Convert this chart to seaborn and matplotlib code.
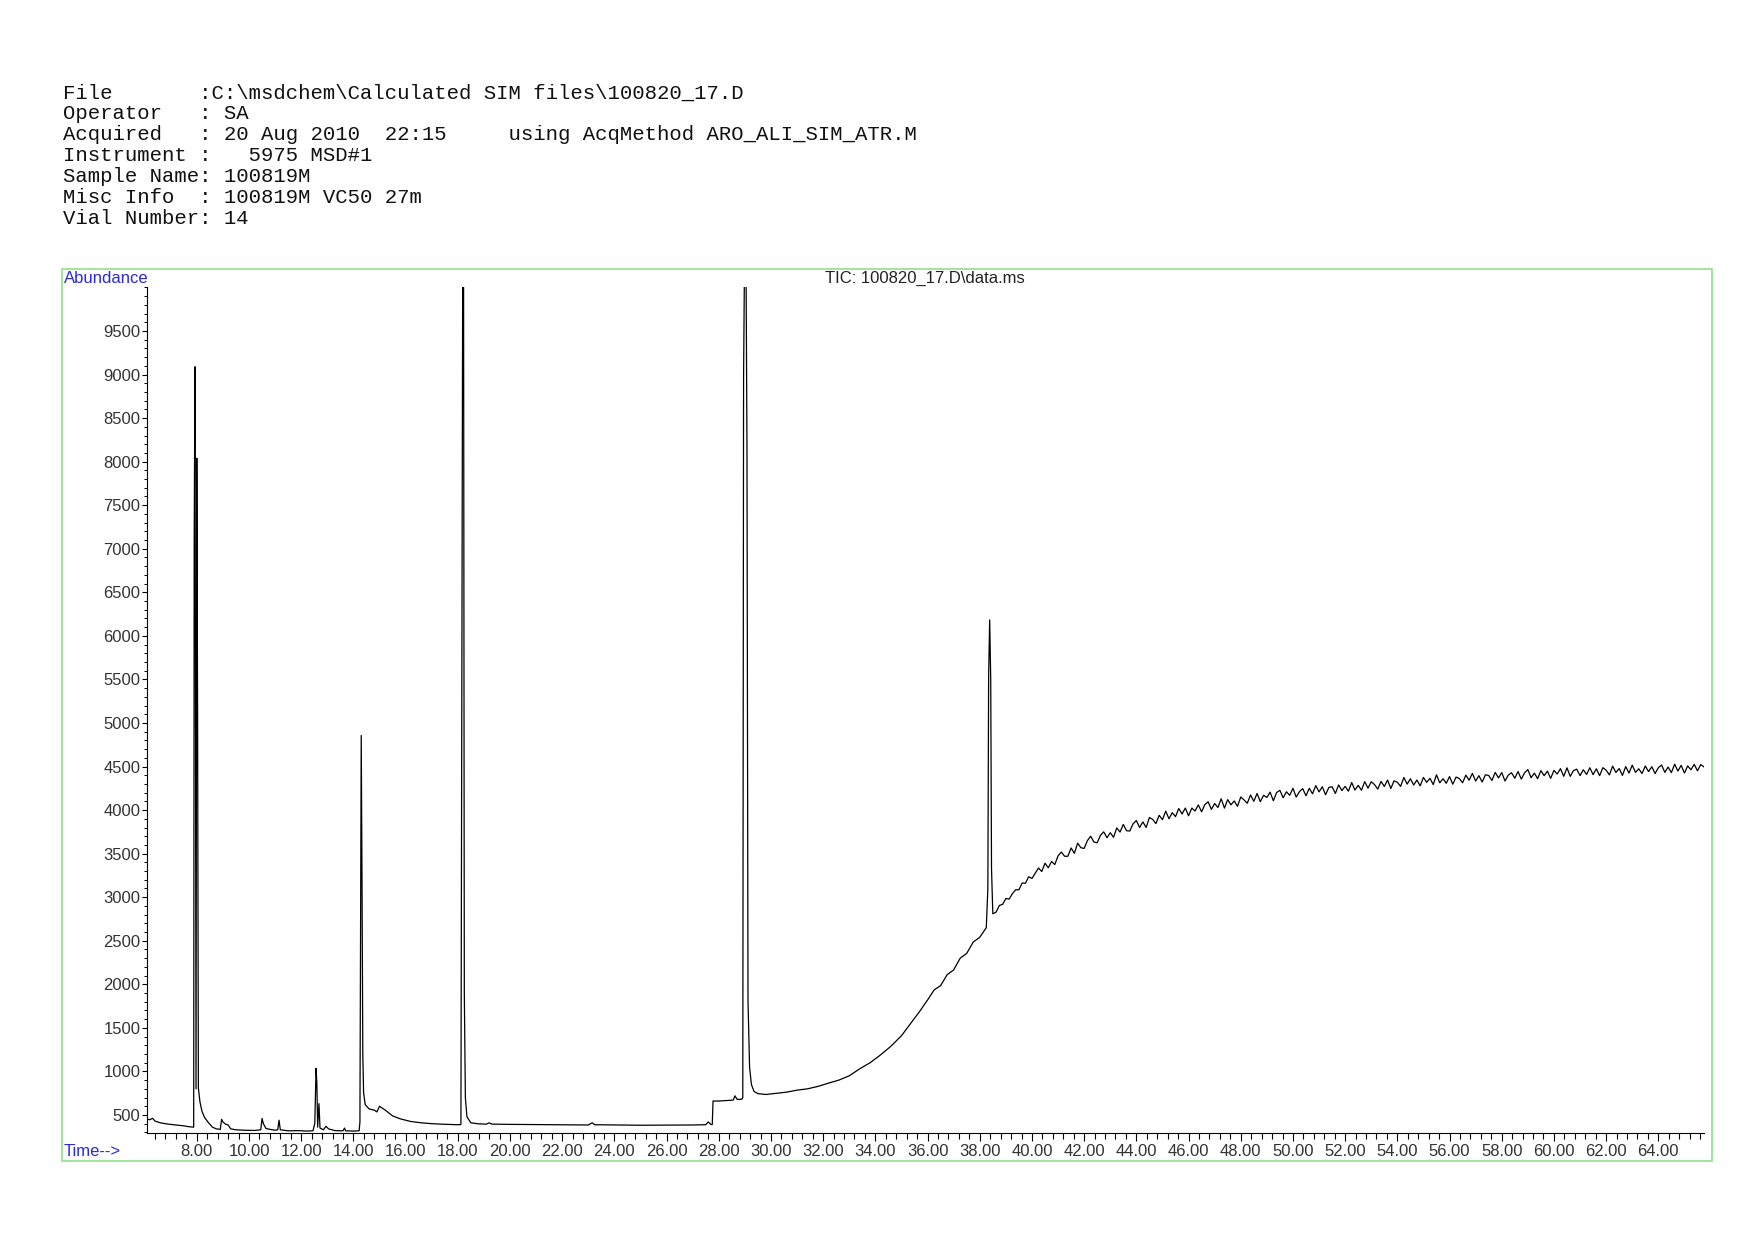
import matplotlib
matplotlib.use("Agg")
import matplotlib.pyplot as plt
from matplotlib.patches import Rectangle
from matplotlib.ticker import FixedLocator, MultipleLocator, FormatStrFormatter
import numpy as np
import pandas as pd
import seaborn as sns

# header block printed above the chromatogram
HEADER_LINES = [
    "File       :C:\\msdchem\\Calculated SIM files\\100820_17.D",
    "Operator   : SA",
    "Acquired   : 20 Aug 2010  22:15     using AcqMethod ARO_ALI_SIM_ATR.M",
    "Instrument :   5975 MSD#1",
    "Sample Name: 100819M",
    "Misc Info  : 100819M VC50 27m",
    "Vial Number: 14",
]
TITLE = "TIC: 100820_17.D\\data.ms"

# --- TIC trace (minutes, abundance) ---
early_min = [
    6.08, 6.2, 6.3, 6.4, 6.6, 6.9, 7.2, 7.5, 7.7, 7.88,
    7.90, 7.93, 7.97, 8.00, 8.03, 8.06, 8.12, 8.2, 8.3, 8.45,
    8.6, 8.75, 8.9, 8.95, 9.0, 9.1, 9.2, 9.3, 9.5, 9.8,
    10.2, 10.45, 10.5, 10.55, 10.65, 10.8, 11.0, 11.1, 11.15, 11.2,
    11.5, 11.9, 12.2, 12.45, 12.52, 12.57, 12.60, 12.63, 12.68, 12.72,
    12.85, 12.95, 13.05, 13.3, 13.6, 13.66, 13.7, 14.0, 14.22, 14.25,
    14.30, 14.33, 14.36, 14.39, 14.45, 14.6, 14.8, 14.9, 15.0, 15.2,
    15.5, 15.8, 16.2, 16.6, 17.0, 17.5, 18.0, 18.12, 18.16, 18.19,
    18.22, 18.25, 18.29, 18.35, 18.5, 18.8, 19.1, 19.2, 19.3, 20.0,
    21.0, 22.0, 23.0, 23.15, 23.25, 24.0, 25.0, 26.0, 27.0, 27.5,
    27.6, 27.7, 27.75, 27.78, 28.0, 28.3, 28.55, 28.62, 28.7, 28.88,
    28.92, 28.95, 28.99, 29.04, 29.08, 29.12, 29.18, 29.25, 29.35, 29.5,
]
early_abund = [
    455, 445, 462, 430, 410, 395, 385, 375, 365, 360,
    7110, 9090, 800, 8040, 5100, 810, 650, 540, 470, 410,
    360, 340, 335, 450, 420, 395, 385, 340, 330, 325,
    322, 330, 460, 400, 345, 335, 325, 330, 440, 330,
    318, 320, 315, 318, 400, 1035, 860, 360, 630, 350,
    330, 370, 340, 320, 318, 350, 318, 315, 318, 420,
    4857, 3186, 1200, 760, 620, 570, 555, 535, 600, 560,
    490, 455, 425, 410, 400, 393, 388, 390, 6000, 10500,
    10500, 1900, 700, 480, 410, 398, 395, 410, 395, 392,
    390, 388, 385, 410, 388, 385, 382, 383, 385, 388,
    420, 390, 390, 660, 660, 665, 670, 720, 680, 680,
    700, 8950, 10500, 10500, 8200, 1800, 1050, 850, 770, 745,
]

ramp_min = [
    29.8, 30.2, 30.6, 31.0, 31.4, 31.8, 32.2, 32.6, 33.0, 33.4,
    33.8, 34.2, 34.6, 35.0, 35.4, 35.7, 36.0, 36.25, 36.5, 36.75,
    37.0, 37.25, 37.5, 37.75, 38.0, 38.25,
]
ramp_abund = [
    735, 748, 762, 785, 800, 828, 865, 900, 950, 1030,
    1100, 1190, 1290, 1410, 1570, 1690, 1820, 1935, 1985, 2110,
    2165, 2300, 2355, 2485, 2540, 2650,
]

peak38_min = [38.31, 38.34, 38.38, 38.42, 38.45]
peak38_abund = [3100, 5550, 6183, 5500, 3330]

# noisy plateau, one scan every 0.125 min from 38.5 min (8 scans per row)
TAIL_START, TAIL_STEP = 38.5, 0.125
tail_abund = [
    2810, 2828, 2905, 2918, 2985, 2978, 3040, 3085,
    3085, 3163, 3160, 3235, 3215, 3275, 3335, 3295,
    3390, 3338, 3410, 3375, 3475, 3518, 3470, 3470,
    3565, 3503, 3620, 3568, 3560, 3650, 3700, 3633,
    3625, 3710, 3750, 3683, 3740, 3688, 3795, 3748,
    3835, 3763, 3760, 3843, 3880, 3800, 3865, 3800,
    3915, 3893, 3845, 3940, 3890, 3988, 3900, 3970,
    3925, 4018, 3955, 4023, 3935, 4023, 3990, 4060,
    3980, 4063, 4095, 4008, 4075, 4030, 4130, 4023,
    4120, 4060, 4105, 4043, 4150, 4117, 4078, 4174,
    4100, 4191, 4097, 4169, 4145, 4206, 4107, 4202,
    4227, 4141, 4210, 4170, 4250, 4149, 4212, 4246,
    4165, 4249, 4187, 4281, 4209, 4268, 4176, 4260,
    4268, 4191, 4289, 4224, 4273, 4217, 4316, 4230,
    4284, 4228, 4327, 4251, 4325, 4293, 4241, 4329,
    4272, 4345, 4248, 4336, 4319, 4272, 4375, 4298,
    4360, 4288, 4345, 4278, 4375, 4318, 4365, 4293,
    4405, 4313, 4360, 4308, 4385, 4297, 4379, 4362,
    4314, 4401, 4343, 4421, 4333, 4395, 4322, 4405,
    4397, 4340, 4432, 4369, 4431, 4334, 4401, 4429,
    4366, 4443, 4355, 4428, 4465, 4372, 4424, 4361,
    4453, 4395, 4447, 4364, 4456, 4414, 4476, 4388,
    4485, 4387, 4453, 4470, 4396, 4463, 4409, 4486,
    4407, 4474, 4395, 4487, 4458, 4404, 4505, 4431,
    4477, 4398, 4499, 4425, 4516, 4433, 4474, 4420,
    4506, 4442, 4498, 4420, 4486, 4517, 4433, 4494,
    4430, 4527, 4448, 4514, 4425, 4507, 4463, 4525,
    4451, 4523, 4495,
]

Y_TICKS = list(range(500, 10000, 500))
X_TICKS = list(range(8, 66, 2))

tail_min = TAIL_START + TAIL_STEP * np.arange(len(tail_abund))
tic = pd.DataFrame({
    "time": np.concatenate([early_min, ramp_min, peak38_min, tail_min]),
    "abundance": np.concatenate([early_abund, ramp_abund, peak38_abund, tail_abund]),
})

sns.set_theme(style="white")
plt.rcParams["font.family"] = ["Liberation Sans", "DejaVu Sans"]

W, H = 1754, 1240
fig = plt.figure(figsize=(W / 100, H / 100), dpi=100, facecolor="white")


def fx(px):
    return px / W


def fy(py):
    return 1 - py / H


ax = fig.add_axes([fx(146.7), fy(1133), fx(1704) - fx(146.7), fy(287) - fy(1133)])
sns.lineplot(data=tic, x="time", y="abundance", ax=ax, color="black",
             linewidth=0.9, estimator=None, sort=False)

ax.set_xlim(6.08, 65.75)
ax.set_ylim(293, 10005)
ax.set_xlabel("")
ax.set_ylabel("")
for side in ["top", "right"]:
    ax.spines[side].set_visible(False)
for side in ["left", "bottom"]:
    ax.spines[side].set_color("black")
    ax.spines[side].set_linewidth(0.8)

ax.xaxis.set_major_locator(FixedLocator(X_TICKS))
ax.xaxis.set_minor_locator(MultipleLocator(0.4))
ax.xaxis.set_major_formatter(FormatStrFormatter("%.2f"))
ax.yaxis.set_major_locator(FixedLocator(Y_TICKS))
ax.yaxis.set_minor_locator(MultipleLocator(100))
ax.tick_params(axis="x", which="major", direction="out", length=6, width=0.8,
               color="black", labelsize=12, labelcolor="#333333", pad=2, bottom=True)
ax.tick_params(axis="x", which="minor", direction="out", length=4, width=0.8,
               color="black", bottom=True)
ax.tick_params(axis="y", which="major", direction="out", length=3.5, width=0.8,
               color="black", labelsize=12, labelcolor="#333333", pad=1, left=True)
ax.tick_params(axis="y", which="minor", direction="out", length=2, width=0.7,
               color="black", left=True)
ax.grid(False)

# green frame round the plot area
fig.patches.append(Rectangle((fx(62), fy(1161)), fx(1712) - fx(62), fy(269) - fy(1161),
                             transform=fig.transFigure, fill=False,
                             edgecolor="#8fe08f", linewidth=1.2))

blue = "#2a2ad8"
fig.text(fx(63.5), fy(278.5), "Abundance", color=blue, fontsize=12, ha="left", va="center")
fig.text(fx(63.5), fy(1151.5), "Time-->", color=blue, fontsize=12, ha="left", va="center")
fig.text(fx(924.7), fy(278.5), TITLE, color="#222222", fontsize=12, ha="center", va="center")

for i, line in enumerate(HEADER_LINES):
    fig.text(fx(62.6), fy(93 + i * 20.9), line, family="Liberation Mono",
             fontsize=14.9, color="#111111", ha="left", va="center")

fig.savefig("out.png", dpi=100, facecolor="white")
